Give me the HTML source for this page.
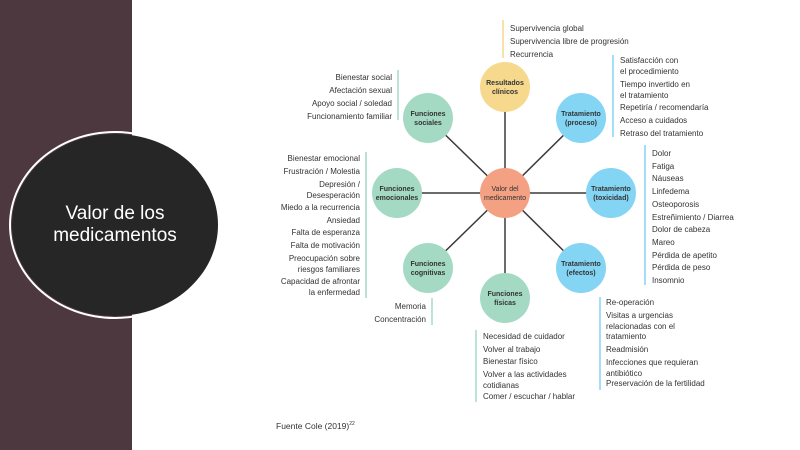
<!DOCTYPE html>
<html><head><meta charset="utf-8"><style>
body{margin:0;width:800px;height:450px;position:relative;overflow:hidden;background:#fff;font-family:"Liberation Sans",sans-serif}
.t{position:absolute;font-size:8px;line-height:10px;color:#333;white-space:nowrap}
.r{text-align:right}
.b{position:absolute;width:1.5px}
</style></head><body>
<div style="position:absolute;left:0;top:0;width:132px;height:450px;background:#4d3840"></div>
<div style="position:absolute;left:9px;top:131px;width:212px;height:188px;border-radius:50%;border:2px solid #fff;box-sizing:border-box;"></div>
<div style="position:absolute;left:12px;top:134px;width:206px;height:182px;border-radius:50%;background:#262626;color:#fff;font-size:19px;line-height:22px;text-align:center;display:flex;align-items:center;justify-content:center;">Valor de los<br>medicamentos</div>
<svg style="position:absolute;left:0;top:0" width="800" height="450">
<g stroke="#3a3a3a" stroke-width="1.5">
<line x1="505" y1="193" x2="505" y2="87"/><line x1="505" y1="193" x2="581" y2="118"/>
<line x1="505" y1="193" x2="611" y2="193"/><line x1="505" y1="193" x2="581" y2="268"/>
<line x1="505" y1="193" x2="505" y2="298"/><line x1="505" y1="193" x2="428" y2="268"/>
<line x1="505" y1="193" x2="397" y2="193"/><line x1="505" y1="193" x2="428" y2="118"/>
</g>
<g font-family="Liberation Sans" font-size="7" font-weight="bold" fill="#333" text-anchor="middle">
<circle cx="505" cy="87" r="25" fill="#f7d98e"/><text x="505" y="85">Resultados</text><text x="505" y="94">clínicos</text>
<circle cx="581" cy="118" r="25" fill="#84d4f4"/><text x="581" y="116">Tratamiento</text><text x="581" y="125">(proceso)</text>
<circle cx="611" cy="193" r="25" fill="#84d4f4"/><text x="611" y="191">Tratamiento</text><text x="611" y="200">(toxicidad)</text>
<circle cx="581" cy="268" r="25" fill="#84d4f4"/><text x="581" y="266">Tratamiento</text><text x="581" y="275">(efectos)</text>
<circle cx="505" cy="298" r="25" fill="#a4dac4"/><text x="505" y="296">Funciones</text><text x="505" y="305">físicas</text>
<circle cx="428" cy="268" r="25" fill="#a4dac4"/><text x="428" y="266">Funciones</text><text x="428" y="275">cognitivas</text>
<circle cx="397" cy="193" r="25" fill="#a4dac4"/><text x="397" y="191">Funciones</text><text x="397" y="200">emocionales</text>
<circle cx="428" cy="118" r="25" fill="#a4dac4"/><text x="428" y="116">Funciones</text><text x="428" y="125">sociales</text>
<circle cx="505" cy="193" r="25" fill="#f4a083"/><text x="505" y="191" font-weight="normal">Valor del</text><text x="505" y="200" font-weight="normal">medicamento</text>
</g>
<g stroke-width="1.5">
<line x1="503" y1="20" x2="503" y2="58" stroke="#f7d98e"/>
<line x1="613" y1="55" x2="613" y2="137" stroke="#84d4f4"/>
<line x1="645" y1="145" x2="645" y2="285" stroke="#84d4f4"/>
<line x1="600" y1="297" x2="600" y2="390" stroke="#84d4f4"/>
<line x1="476" y1="330" x2="476" y2="402" stroke="#a4dac4"/>
<line x1="432" y1="298" x2="432" y2="325" stroke="#a4dac4"/>
<line x1="366" y1="152" x2="366" y2="298" stroke="#a4dac4"/>
<line x1="398" y1="70" x2="398" y2="120" stroke="#a4dac4"/>
</g>
</svg>
<div class="t" style="left:510px;top:22px;line-height:13px">Supervivencia global<br>Supervivencia libre de progresión<br>Recurrencia</div>
<div class="t" style="left:620px;top:55px;line-height:11px">Satisfacción con<br>el procedimiento</div>
<div class="t" style="left:620px;top:79px;line-height:11px">Tiempo invertido en<br>el tratamiento</div>
<div class="t" style="left:620px;top:101px;line-height:13px">Repetiría / recomendaría<br>Acceso a cuidados<br>Retraso del tratamiento</div>
<div class="t" style="left:652px;top:148px;line-height:12.7px">Dolor<br>Fatiga<br>Náuseas<br>Linfedema<br>Osteoporosis<br>Estreñimiento / Diarrea<br>Dolor de cabeza<br>Mareo<br>Pérdida de apetito<br>Pérdida de peso<br>Insomnio</div>
<div class="t" style="left:606px;top:298px;line-height:10.5px">Re-operación</div>
<div class="t" style="left:606px;top:311px;line-height:10.5px">Visitas a urgencias<br>relacionadas con el<br>tratamiento</div>
<div class="t" style="left:606px;top:345px;line-height:10.5px">Readmisión</div>
<div class="t" style="left:606px;top:358px;line-height:10.5px">Infecciones que requieran<br>antibiótico</div>
<div class="t" style="left:606px;top:379px;line-height:10.5px">Preservación de la fertilidad</div>
<div class="t" style="left:483px;top:331px;line-height:12.7px">Necesidad de cuidador<br>Volver al trabajo<br>Bienestar físico</div>
<div class="t" style="left:483px;top:369px;line-height:11px">Volver a las actividades<br>cotidianas</div>
<div class="t" style="left:483px;top:392px">Comer / escuchar / hablar</div>
<div class="t r" style="right:374px;top:300px;line-height:13px">Memoria<br>Concentración</div>
<div class="t r" style="right:440px;top:153px;line-height:12.7px">Bienestar emocional<br>Frustración / Molestia</div>
<div class="t r" style="right:440px;top:179px;line-height:11px">Depresión /<br>Desesperación</div>
<div class="t r" style="right:440px;top:202px;line-height:12.5px">Miedo a la recurrencia<br>Ansiedad<br>Falta de esperanza<br>Falta de motivación</div>
<div class="t r" style="right:440px;top:253px;line-height:11px">Preocupación sobre<br>riesgos familiares</div>
<div class="t r" style="right:440px;top:276px;line-height:11px">Capacidad de afrontar<br>la enfermedad</div>
<div class="t r" style="right:408px;top:71px;line-height:13px">Bienestar social<br>Afectación sexual<br>Apoyo social / soledad<br>Funcionamiento familiar</div>
<div class="t" style="left:276px;top:419px;font-size:8.5px">Fuente Cole (2019)<sup style="font-size:5px">22</sup></div>
</body></html>
